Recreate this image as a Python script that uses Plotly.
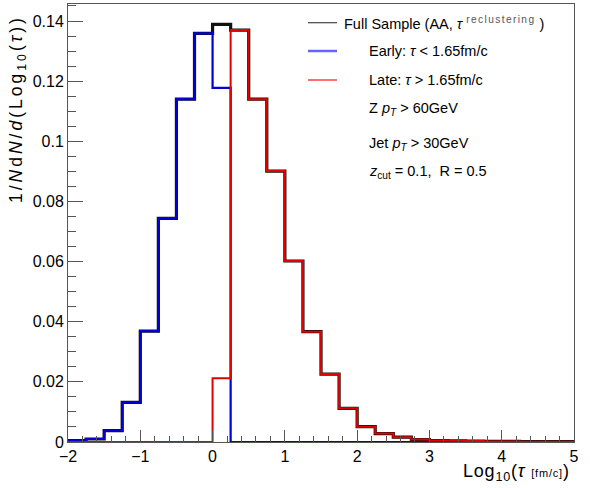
import plotly.graph_objects as go

# ---- data ----
bin_edges = [-2.0, -1.75, -1.5, -1.25, -1.0, -0.75, -0.5, -0.25, 0.0, 0.25, 0.5, 0.75,
             1.0, 1.25, 1.5, 1.75, 2.0, 2.25, 2.5, 2.75, 3.0, 3.25, 3.5, 3.75, 4.0,
             4.25, 4.5, 4.75, 5.0]

full_sample = [0.0005, 0.0010, 0.0038, 0.0132, 0.0369, 0.0744, 0.1140, 0.1359,
               0.1389, 0.1370, 0.1140, 0.0901, 0.0602, 0.0367, 0.0226, 0.0112,
               0.0051, 0.0028, 0.0016, 0.0008, 0.0005, 0.0004, 0.0003, 0.0002,
               0.0002, 0.0001, 0.0001, 0.0001]

early = [0.0005, 0.0010, 0.0038, 0.0132, 0.0369, 0.0744, 0.1140, 0.1359,
         0.1178, 0.0, 0.0, 0.0, 0.0, 0.0, 0.0, 0.0,
         0.0, 0.0, 0.0, 0.0, 0.0, 0.0, 0.0, 0.0,
         0.0, 0.0, 0.0, 0.0]

late = [0.0, 0.0, 0.0, 0.0, 0.0, 0.0, 0.0, 0.0,
        0.0212, 0.1370, 0.1140, 0.0901, 0.0602, 0.0367, 0.0226, 0.0112,
        0.0051, 0.0028, 0.0016, 0.0008, 0.0005, 0.0004, 0.0003, 0.0002,
        0.0002, 0.0001, 0.0001, 0.0001]

x_ticks = [-2, -1, 0, 1, 2, 3, 4, 5]
y_ticks = [0, 0.02, 0.04, 0.06, 0.08, 0.10, 0.12, 0.14]
y_tick_text = ["0", "0.02", "0.04", "0.06", "0.08", "0.1", "0.12", "0.14"]

FONT = "Liberation Sans, Arial, sans-serif"
W, H = 590, 488
L, R, T, B = 68, 16, 4, 46
PW, PH = W - L - R, H - T - B


def px(xp):
    return (xp - L) / PW


def py(yp):
    return (H - B - yp) / PH


def step(edges, vals):
    xs = list(edges[:-1]) + [edges[-1]]
    ys = list(vals) + [vals[-1]]
    return xs, ys


fig = go.Figure()

xs, ys = step(bin_edges, full_sample)
fig.add_trace(go.Scatter(x=xs, y=ys, mode="lines", line=dict(color="#111111", width=3.2, shape="hv"),
                         showlegend=False, hoverinfo="skip"))
xs, ys = step(bin_edges, early)
fig.add_trace(go.Scatter(x=xs, y=ys, mode="lines", line=dict(color="rgb(0,0,215)", width=2.2, shape="hv"),
                         showlegend=False, hoverinfo="skip"))
xs, ys = step(bin_edges, late)
fig.add_trace(go.Scatter(x=xs, y=ys, mode="lines", line=dict(color="rgb(225,0,0)", width=2.0, shape="hv"),
                         showlegend=False, hoverinfo="skip"))

# ---- legend (manual, ROOT TLegend style without border) ----
shapes = []
ann = []
leg_line_x0, leg_line_x1 = px(308), px(337)
legend_lines = [(22.7, "#444444", 1.2), (51.0, "#6666ff", 2.5), (80.0, "#ff2020", 1.3)]
for yy, col, wd in legend_lines:
    shapes.append(dict(type="line", xref="paper", yref="paper", x0=leg_line_x0, x1=leg_line_x1,
                       y0=py(yy), y1=py(yy), line=dict(color=col, width=wd)))

legend_texts = [
    (342, 22.7, "Full Sample (AA, <i>τ</i> <sup><span style='letter-spacing:1.4px;color:#555'>"
                "reclustering</span></sup> )"),
    (367, 51.0, "Early: <i>τ</i> &lt; 1.65fm/c"),
    (367, 80.0, "Late: <i>τ</i> &gt; 1.65fm/c"),
    (367, 109.0, "Z <i>p</i><sub><i>T</i></sub> &gt; 60GeV"),
    (367, 143.5, "Jet <i>p</i><sub><i>T</i></sub> &gt; 30GeV"),
    (367, 171.5, "<i>z</i><sub>cut</sub> = 0.1,  R = 0.5"),
]
for xx, yy, txt in legend_texts:
    ann.append(dict(text=txt, xref="paper", yref="paper", x=px(xx), y=py(yy), xanchor="left",
                    yanchor="middle", showarrow=False,
                    font=dict(family=FONT, size=14.5, color="black")))

# axis titles
ann.append(dict(text="<span style='letter-spacing:0.8px'>Log<sub>10</sub>(<i>τ</i> "
                     "<span style='font-size:11px'>[fm/c]</span>)</span>",
                xref="paper", yref="paper", x=px(572), y=py(473), xanchor="right", yanchor="middle",
                showarrow=False, font=dict(family=FONT, size=18, color="black")))
ann.append(dict(text="<span style='letter-spacing:3px'>1/<i>N</i>d<i>N</i>/<i>d</i>(Log"
                     "<sub>10</sub>(<i>τ</i>))</span>",
                xref="paper", yref="paper", x=px(18), y=py(13), xanchor="center", yanchor="top",
                textangle=-90, showarrow=False, font=dict(family=FONT, size=17.5, color="black")))

fig.update_layout(
    width=W, height=H,
    margin=dict(l=L, r=R, t=T, b=B, autoexpand=False),
    paper_bgcolor="white", plot_bgcolor="white",
    font=dict(family=FONT, size=16, color="black"),
    shapes=shapes, annotations=ann,
    showlegend=False,
)

fig.update_xaxes(range=[-2, 5], tickvals=x_ticks, ticks="inside", ticklen=12, tickcolor="#555",
                 tickwidth=1, showline=True, linecolor="#555", linewidth=1, mirror=True,
                 showgrid=False, zeroline=False, tickfont=dict(family=FONT, size=16),
                 minor=dict(dtick=0.2, ticks="inside", ticklen=6, tickcolor="#555", showgrid=False))
fig.update_yaxes(range=[0, 0.14566], tickvals=y_ticks, ticktext=y_tick_text, ticks="inside",
                 ticklen=15, tickcolor="#555", tickwidth=1, showline=True, linecolor="#555",
                 linewidth=1, mirror=True, showgrid=False, zeroline=False,
                 tickfont=dict(family=FONT, size=16),
                 minor=dict(dtick=0.005, ticks="inside", ticklen=7.5, tickcolor="#555", showgrid=False))

fig.write_html("out.html", config={"displayModeBar": False},
               post_script="document.body.style.margin='0px';document.body.style.overflow='hidden';")
